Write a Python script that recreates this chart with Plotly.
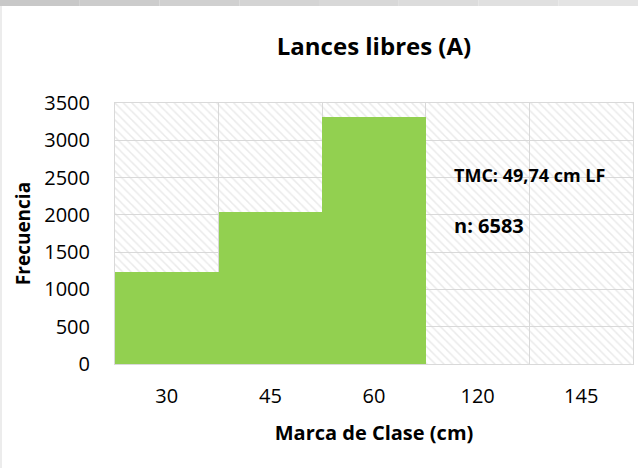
import plotly.graph_objects as go

# datos del histograma
marcas = ["30", "45", "60", "120", "145"]
frecuencias = [1240, 2035, 3308, 0, 0]
tmc_texto = "TMC: 49,74 cm LF"
n_texto = "n: 6583"
y_max = 3500

FONT = "Open Sans"
W, H = 638, 468
ML, MR, MT, MB = 115, 5, 103, 104
pw = W - ML - MR
ph = H - MT - MB

fig = go.Figure()

# fondo rayado del area de trazado (como en Excel)
fig.add_trace(go.Bar(
    x=marcas, y=[y_max] * len(marcas),
    marker=dict(color="rgba(0,0,0,0)", line=dict(width=0),
                pattern=dict(shape="\\", fgcolor="#d6d6d6",
                             bgcolor="rgba(0,0,0,0)", size=6, solidity=0.25)),
    hoverinfo="skip", showlegend=False,
))

fig.add_trace(go.Bar(
    x=marcas, y=frecuencias,
    marker=dict(color="#92D050", line=dict(width=0)),
    showlegend=False,
))

# franja gris superior
n_seg = 8
for k in range(n_seg):
    g = int(0xc8 + (0xe4 - 0xc8) * k / (n_seg - 1))
    fig.add_shape(type="rect", xref="paper", yref="paper",
                  x0=-ML / pw + k * W / pw / n_seg,
                  x1=-ML / pw + (k + 1) * W / pw / n_seg,
                  y0=1 + (MT - 6) / ph, y1=1 + MT / ph,
                  fillcolor="rgb(%d,%d,%d)" % (g, g, g), line=dict(width=0),
                  layer="below")
fig.add_shape(type="line", xref="paper", yref="paper",
              x0=-ML / pw + 1 / pw, x1=-ML / pw + 1 / pw,
              y0=1 + (MT - 6) / ph, y1=-MB / ph,
              line=dict(color="#ececec", width=2))

fig.add_annotation(text="<b>" + tmc_texto + "</b>", xref="paper", yref="paper",
                   x=(452 - ML) / pw, y=1 - (175 - MT) / ph,
                   xanchor="left", yanchor="middle", showarrow=False,
                   font=dict(family=FONT, size=18, color="#000000"))
fig.add_annotation(text="<b>" + n_texto + "</b>", xref="paper", yref="paper",
                   x=(452 - ML) / pw, y=1 - (225 - MT) / ph,
                   xanchor="left", yanchor="middle", showarrow=False,
                   font=dict(family=FONT, size=20, color="#000000"))

fig.update_layout(
    width=W, height=H,
    margin=dict(l=ML, r=MR, t=MT, b=MB),
    paper_bgcolor="white", plot_bgcolor="white",
    barmode="overlay", bargap=0,
    font=dict(family=FONT, color="#000000"),
    title=dict(text="<b>Lances libres (A)</b>", x=0.5, xref="paper",
               y=1 - 47 / H, yanchor="middle",
               font=dict(family=FONT, size=24, color="#000000")),
)
fig.update_xaxes(
    type="category", tickson="boundaries", ticks="",
    showgrid=True, gridcolor="#d9d9d9", gridwidth=1,
    showline=True, linecolor="#d9d9d9", linewidth=1, mirror=True,
    tickfont=dict(size=20), ticklabelstandoff=14,
    title=dict(text="<b>Marca de Clase (cm)</b>", font=dict(size=20), standoff=17),
)
fig.update_yaxes(
    range=[0, y_max], dtick=500, ticks="",
    showgrid=True, gridcolor="#d9d9d9", gridwidth=1,
    showline=True, linecolor="#d9d9d9", linewidth=1, mirror=True,
    tickfont=dict(size=20), ticklabelstandoff=20,
    title=dict(text="<b>Frecuencia</b>", font=dict(size=19), standoff=8),
    zeroline=False,
)

# quitar el margen por defecto del body para que la figura empiece en (0, 0)
fig.write_html("out.html", config={"displayModeBar": False},
               post_script="document.body.style.margin='0';")
